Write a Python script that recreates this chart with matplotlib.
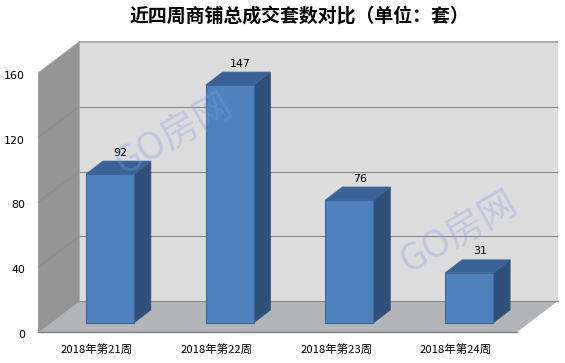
import matplotlib
matplotlib.use("Agg")
import matplotlib.pyplot as plt
from matplotlib.transforms import ScaledTranslation

plt.rcParams['font.family'] = ['Noto Sans CJK SC', 'DejaVu Sans']

title = "近四周商铺总成交套数对比（单位：套）"
categories = ["2018年第21周", "2018年第22周", "2018年第23周", "2018年第24周"]
values = [92, 147, 76, 31]
yticks = [0, 40, 80, 120, 160]
watermark = "GO房网"

W, H = 565, 363
L, R, T, B = 38, 517, 73, 332      # front plane of the plot, pixels
DX, DY = 41, 31                    # depth of the 3-D box, pixels
BOFF_X, BOFF_Y = 12, 9             # bar front face behind front plane
BAR_DX, BAR_DY = 17, 13            # bar depth
BAR_W = 48

fig = plt.figure(figsize=(W / 100, H / 100), dpi=100, facecolor="white")
ax = fig.add_axes([L / W, (H - B) / H, (R - L) / W, (B - T) / H])
ax.set_xlim(-0.5, len(values) - 0.5)
ax.set_ylim(0, yticks[-1])
ax.set_facecolor("none")
for s in ax.spines.values():
    s.set_visible(False)

ux = (len(values)) / (R - L)       # data per pixel, x
uy = yticks[-1] / (B - T)          # data per pixel, y
x0, x1 = ax.get_xlim()
ymax = yticks[-1]
dx, dy = DX * ux, DY * uy

# box: back wall, left wall, floor
ax.fill([x0 + dx, x1 + dx, x1 + dx, x0 + dx], [dy, dy, ymax + dy, ymax + dy],
        color="#dcdcdc", lw=0, zorder=1, clip_on=False)
ax.fill([x0, x0 + dx, x0 + dx, x0], [0, dy, ymax + dy, ymax],
        color="#959595", lw=0, zorder=1, clip_on=False)
ax.fill([x0, x1, x1 + dx, x0 + dx], [0, 0, dy, dy],
        color="#b2b4b8", lw=0, zorder=1, clip_on=False)

# gridlines
for t in yticks:
    if t == 0:
        continue
    lw, col = (1.3, "#a6a6a6") if t == ymax else (0.8, "#868686")
    ax.plot([x0 + dx, x1 + dx], [t + dy, t + dy], color=col, lw=lw, zorder=2,
            clip_on=False, solid_capstyle="butt")
    if t != ymax:
        ax.plot([x0, x0 + dx], [t, t + dy], color="#8a8a8a", lw=0.6, zorder=2, clip_on=False)
ax.plot([x0 + dx, x1 + dx], [dy, dy], color="#868686", lw=0.8, zorder=2, clip_on=False)
ax.plot([x0, x1], [0, 0], color="#808080", lw=1.0, zorder=2, clip_on=False)
ax.plot([x0, x0 + dx], [0, dy], color="#8a8a8a", lw=0.6, zorder=2, clip_on=False)
ax.plot([x0, x0], [0, ymax], color="#a0a0a0", lw=0.6, zorder=2, clip_on=False)
ax.plot([x0, x0 + dx], [ymax, ymax + dy], color="#a6a6a6", lw=0.6, zorder=2, clip_on=False)
ax.plot([x0 + dx, x0 + dx], [dy, ymax + dy], color="#a6a6a6", lw=0.6, zorder=2, clip_on=False)

# bars
bw = BAR_W * ux
ox, oy = BOFF_X * ux, BOFF_Y * uy
bdx, bdy = BAR_DX * ux, BAR_DY * uy
for i, v in enumerate(values):
    xl, xr = i + ox - bw / 2, i + ox + bw / 2
    yb, yt = oy, oy + v
    ax.fill([xr, xr + bdx, xr + bdx, xr], [yb, yb + bdy, yt + bdy, yt],
            facecolor="#2f5079", edgecolor="#335a88", lw=0.5, zorder=3, clip_on=False)
    ax.fill([xl, xr, xr + bdx, xl + bdx], [yt, yt, yt + bdy, yt + bdy],
            facecolor="#3a6296", edgecolor="#3f6a9c", lw=0.5, zorder=3, clip_on=False)
    ax.bar(i + ox, v, bw, bottom=oy, color="#4f81bd", edgecolor="#3c6797", lw=0.8,
           zorder=4, clip_on=False)
    ax.annotate(str(v), (i + ox, yt), xytext=(7.6, 15.4), textcoords="offset points",
                ha="center", va="center", fontsize=7.9, family="DejaVu Sans",
                color="black", zorder=6, annotation_clip=False)

# axis labels
ax.set_xticks(range(len(categories)))
ax.set_xticklabels(categories, fontsize=8.2, color="black")
ax.tick_params(axis="x", length=0, pad=8.5)
ax.set_yticks(yticks)
ax.set_yticklabels([str(t) for t in yticks], fontsize=7.9, family="DejaVu Sans", color="black")
ax.tick_params(axis="y", length=0, pad=9)
shift = ScaledTranslation(-0.5 / 100, -1.8 / 100, fig.dpi_scale_trans)
for lab in ax.get_yticklabels():
    lab.set_transform(lab.get_transform() + shift)
shift_x = ScaledTranslation(-1 / 100, 0, fig.dpi_scale_trans)
for lab in ax.get_xticklabels():
    lab.set_transform(lab.get_transform() + shift_x)

fig.text(130 / W, 1 - 17 / H, title, fontsize=13.6, fontweight="bold",
         ha="left", va="center", color="black")

# watermarks
for px, py in [(175, 135), (460, 233)]:
    fig.text(px / W, 1 - py / H, watermark, fontsize=27, color="#7f9ce6", alpha=0.32,
             rotation=30, ha="center", va="center", rotation_mode="anchor", zorder=10)

fig.savefig("out.png", dpi=100)
